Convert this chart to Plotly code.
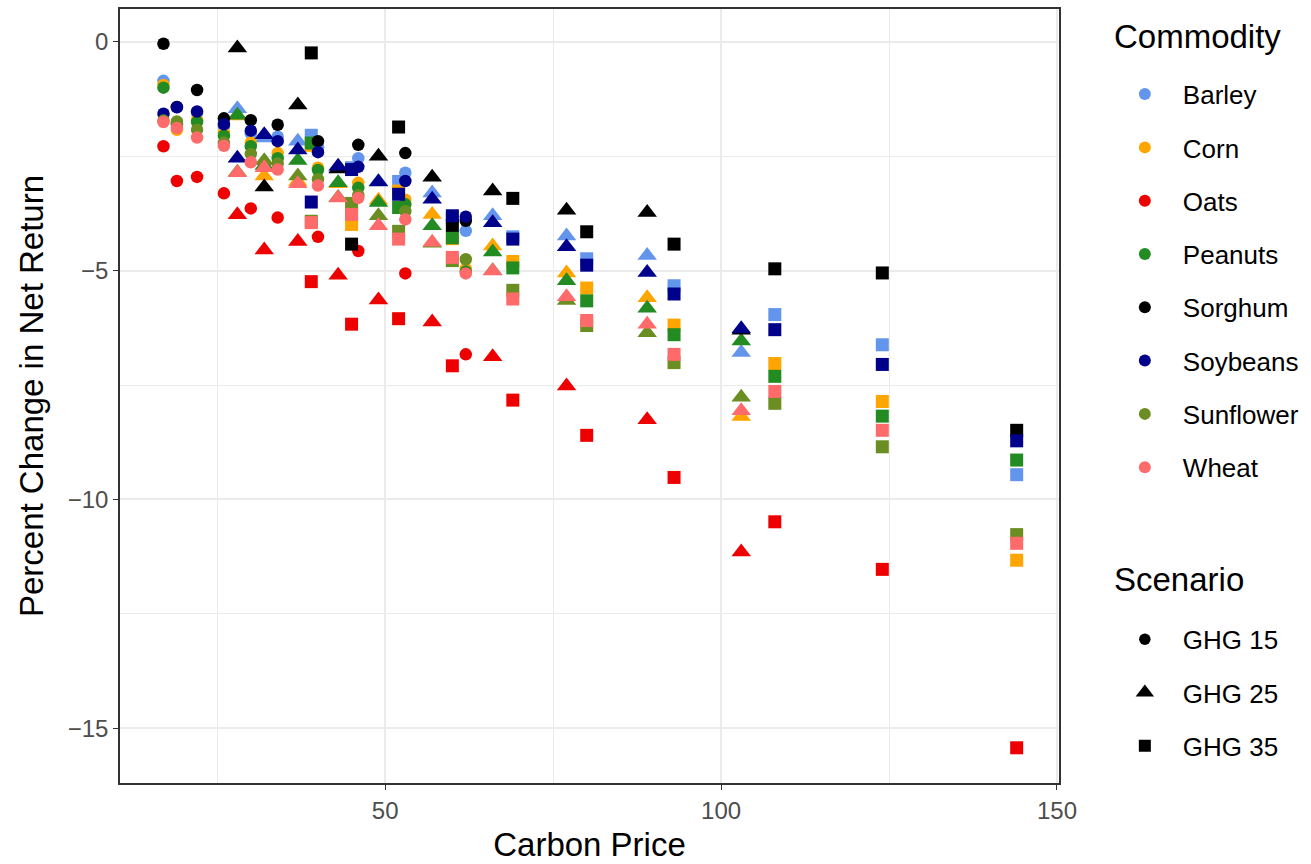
import plotly.graph_objects as go

# ---- data ----
commodities = ["Barley", "Corn", "Oats", "Peanuts", "Sorghum", "Soybeans", "Sunflower", "Wheat"]
colors = ["#6495ED", "#FFA500", "#EE0000", "#228B22", "#000000", "#00008B", "#6B8E23", "#FF6A6A"]
scenarios = ["GHG 15", "GHG 25", "GHG 35"]
symbols = ["circle", "triangle-up", "square"]

x15 = [17, 19, 22, 26, 30, 34, 40, 46, 53, 62]
x25 = [28, 32, 37, 43, 49, 57, 66, 77, 89, 103]
x35 = [39, 45, 52, 60, 69, 80, 93, 108, 124, 144]

barley_15 = [-0.85, -1.78, -1.55, -1.85, -2.0, -2.07, -2.3, -2.54, -2.86, -4.13]
barley_25 = [-1.46, -2.1, -2.17, -2.75, -3.05, -3.3, -3.8, -4.24, -4.67, -6.79]
barley_35 = [-2.04, -2.75, -3.05, -3.85, -4.26, -4.74, -5.33, -5.96, -6.62, -9.46]

corn_15 = [-0.94, -1.92, -1.7, -1.99, -2.2, -2.43, -2.75, -3.08, -3.45, -4.96]
corn_25 = [-1.62, -2.93, -3.05, -3.1, -3.46, -3.77, -4.46, -5.05, -5.59, -8.19]
corn_35 = [-2.26, -3.99, -3.26, -4.3, -4.8, -5.38, -6.19, -7.03, -7.86, -11.33]

oats_15 = [-2.28, -3.04, -2.95, -3.31, -3.64, -3.84, -4.26, -4.57, -5.06, -6.83]
oats_25 = [-3.78, -4.55, -4.36, -5.1, -5.64, -6.12, -6.88, -7.52, -8.26, -11.15]
oats_35 = [-5.24, -6.17, -6.05, -7.08, -7.83, -8.6, -9.52, -10.49, -11.53, -15.43]

peanuts_15 = [-1.0, -1.8, -1.75, -2.05, -2.28, -2.54, -2.8, -3.19, -3.55, -5.02]
peanuts_25 = [-1.6, -2.7, -2.59, -3.08, -3.51, -4.02, -4.59, -5.22, -5.82, -6.54]
peanuts_35 = [-2.21, -3.75, -3.62, -4.28, -4.94, -5.66, -6.4, -7.31, -8.18, -9.14]

sorghum_15 = [-0.04, -1.42, -1.05, -1.67, -1.71, -1.81, -2.17, -2.25, -2.43, -3.91]
sorghum_25 = [-0.13, -3.17, -1.38, -2.78, -2.5, -2.96, -3.26, -3.68, -3.73, -6.3]
sorghum_35 = [-0.24, -4.42, -1.86, -4.01, -3.42, -4.15, -4.42, -4.96, -5.05, -8.49]

soybeans_15 = [-1.57, -1.43, -1.52, -1.8, -1.94, -2.17, -2.41, -2.73, -3.04, -3.82]
soybeans_25 = [-2.54, -2.03, -2.36, -2.72, -3.06, -3.44, -3.95, -4.48, -5.04, -6.27]
soybeans_35 = [-3.5, -2.79, -3.33, -3.8, -4.31, -4.88, -5.51, -6.29, -7.05, -8.72]

sunflower_15 = [-1.72, -1.74, -1.92, -2.2, -2.45, -2.66, -3.0, -3.35, -3.7, -4.75]
sunflower_25 = [-2.85, -2.6, -2.93, -3.4, -3.8, -4.4, -5.0, -5.65, -6.36, -7.77]
sunflower_35 = [-3.92, -3.53, -4.14, -4.78, -5.43, -6.2, -7.01, -7.9, -8.85, -10.77]

wheat_15 = [-1.75, -1.88, -2.09, -2.27, -2.63, -2.79, -3.14, -3.41, -3.88, -5.06]
wheat_25 = [-2.86, -2.75, -3.1, -3.41, -4.02, -4.38, -5.01, -5.57, -6.17, -8.06]
wheat_35 = [-3.95, -3.77, -4.31, -4.71, -5.62, -6.09, -6.83, -7.64, -8.49, -10.96]

series = {
    "Barley": (barley_15, barley_25, barley_35),
    "Corn": (corn_15, corn_25, corn_35),
    "Oats": (oats_15, oats_25, oats_35),
    "Peanuts": (peanuts_15, peanuts_25, peanuts_35),
    "Sorghum": (sorghum_15, sorghum_25, sorghum_35),
    "Soybeans": (soybeans_15, soybeans_25, soybeans_35),
    "Sunflower": (sunflower_15, sunflower_25, sunflower_35),
    "Wheat": (wheat_15, wheat_25, wheat_35),
}
xs = (x15, x25, x35)

# ---- style ----
FONT = "Liberation Sans, Arial, sans-serif"
sym_size = {"circle": 12.5, "triangle-up": 17, "square": 13}

fig = go.Figure()

for name, col in zip(commodities, colors):
    X, Y, S = [], [], []
    for xv, yv, sym in zip(xs, series[name], symbols):
        X += xv
        Y += yv
        S += [sym] * len(xv)
    fig.add_trace(go.Scatter(
        x=X, y=Y, mode="markers", showlegend=False, hoverinfo="x+y",
        marker=dict(color=col, symbol=S, size=[sym_size[s] for s in S],
                    opacity=1, line=dict(width=0)),
    ))

# legend entries (commodity)
for name, col in zip(commodities, colors):
    fig.add_trace(go.Scatter(
        x=[None], y=[None], mode="markers", name=name, legend="legend",
        legendgroup=name, marker=dict(color=col, symbol="circle", size=12, opacity=1),
    ))
# legend entries (scenario)
for sc, sym in zip(scenarios, symbols):
    fig.add_trace(go.Scatter(
        x=[None], y=[None], mode="markers", name=sc, legend="legend2",
        legendgroup=sc, marker=dict(color="black", symbol=sym,
                                    size=sym_size[sym] - 1, opacity=1),
    ))

axis_common = dict(
    showline=True, linecolor="#333333", linewidth=1.5, mirror=True,
    showgrid=True, gridcolor="#EBEBEB", gridwidth=2,
    ticks="outside", ticklen=5, tickcolor="#333333", tickwidth=1.2,
    tickfont=dict(family=FONT, size=24, color="#4D4D4D"),
    zeroline=False,
)

LEG_X = (1110 - 120) / 942

fig.update_layout(
    width=1311, height=864,
    paper_bgcolor="white", plot_bgcolor="white",
    margin=dict(l=120, r=249, t=7, b=79),
    font=dict(family=FONT, color="black"),
    xaxis=dict(
        range=[10.53, 150.3], tickvals=[50, 100, 150],
        minor=dict(showgrid=True, gridcolor="#EBEBEB", gridwidth=1, tickvals=[25, 75, 125], ticks=""),
        title=dict(text="Carbon Price", font=dict(family=FONT, size=33, color="black"), standoff=10),
        **axis_common,
    ),
    yaxis=dict(
        range=[-16.2, 0.72], tickvals=[0, -5, -10, -15],
        minor=dict(showgrid=True, gridcolor="#EBEBEB", gridwidth=1, tickvals=[-2.5, -7.5, -12.5], ticks=""),
        title=dict(text="Percent Change in Net Return", font=dict(family=FONT, size=33, color="black"), standoff=14),
        **axis_common,
    ),
    legend=dict(
        x=LEG_X, y=(785 - 69) / 778, xanchor="left", yanchor="top",
        font=dict(family=FONT, size=26), tracegroupgap=16.5, itemwidth=66,
        bgcolor="rgba(0,0,0,0)",
    ),
    legend2=dict(
        x=LEG_X, y=(785 - 617) / 778, xanchor="left", yanchor="top",
        font=dict(family=FONT, size=26), tracegroupgap=16.5, itemwidth=66,
        bgcolor="rgba(0,0,0,0)",
    ),
    annotations=[
        dict(text="Commodity", xref="paper", yref="paper",
             x=(1115 - 120) / 942, y=(785 - 35) / 778, xanchor="left", yanchor="middle",
             showarrow=False, font=dict(family=FONT, size=33, color="black")),
        dict(text="Scenario", xref="paper", yref="paper",
             x=(1115 - 120) / 942, y=(785 - 580) / 778, xanchor="left", yanchor="middle",
             showarrow=False, font=dict(family=FONT, size=33, color="black")),
    ],
)

fig.write_html("out.html", config={"displayModeBar": False},
               post_script="document.body.style.margin='0';")
